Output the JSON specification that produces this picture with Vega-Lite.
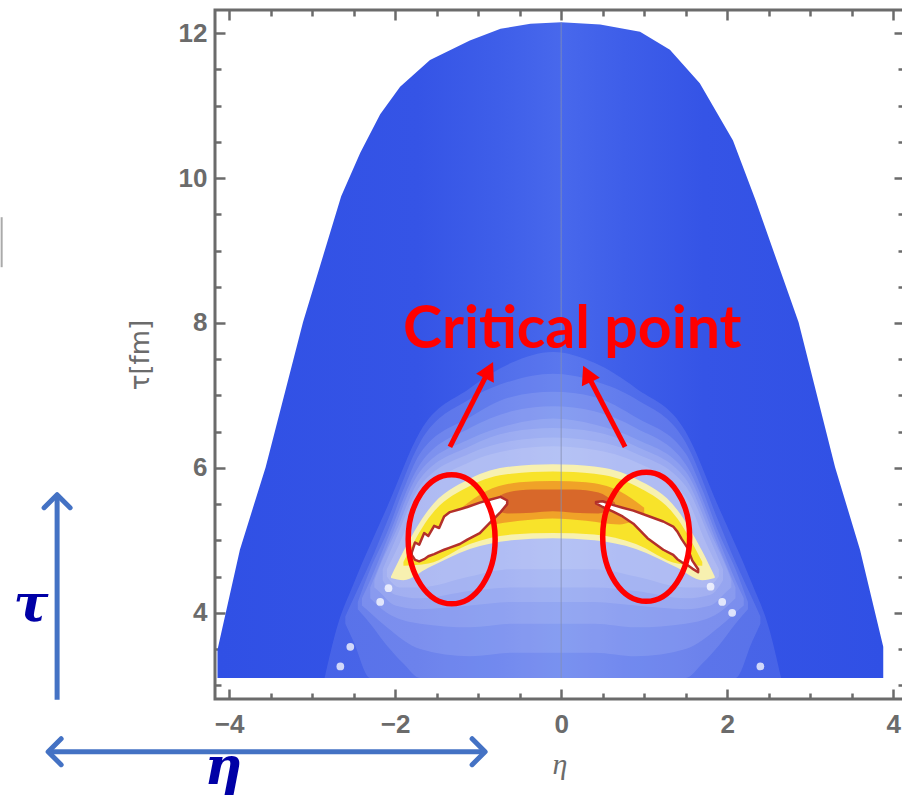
{
 "$schema": "https://vega.github.io/schema/vega-lite/v6.json",
 "width": 689, "height": 689,
 "autosize": {"type": "none"},
 "padding": {"left": 215, "top": 10, "right": 0, "bottom": 102},
 "background": "white",
 "config": {"view": {"stroke": "#6b6b6b", "strokeWidth": 3}, "axis": {"grid": false, "domain": false}},
 "datasets": {
  "shape": [
   {"eta": -4.14, "tau": 3.49, "bot": 3.1}, {"eta": -3.87, "tau": 4.87, "bot": 3.1}, {"eta": -3.56, "tau": 6.01, "bot": 3.1},
   {"eta": -3.11, "tau": 8.01, "bot": 3.1}, {"eta": -2.65, "tau": 9.75, "bot": 3.1}, {"eta": -2.42, "tau": 10.35, "bot": 3.1},
   {"eta": -2.18, "tau": 10.88, "bot": 3.1}, {"eta": -1.94, "tau": 11.26, "bot": 3.1}, {"eta": -1.58, "tau": 11.63, "bot": 3.1},
   {"eta": -1.10, "tau": 11.90, "bot": 3.1}, {"eta": -0.73, "tau": 12.06, "bot": 3.1}, {"eta": -0.37, "tau": 12.13, "bot": 3.1},
   {"eta": 0, "tau": 12.15, "bot": 3.1}, {"eta": 0.47, "tau": 12.12, "bot": 3.1}, {"eta": 0.95, "tau": 12.02, "bot": 3.1},
   {"eta": 1.31, "tau": 11.77, "bot": 3.1}, {"eta": 1.67, "tau": 11.31, "bot": 3.1}, {"eta": 2.07, "tau": 10.52, "bot": 3.1},
   {"eta": 2.34, "tau": 9.70, "bot": 3.1}, {"eta": 2.86, "tau": 8.01, "bot": 3.1}, {"eta": 3.30, "tau": 6.01, "bot": 3.1},
   {"eta": 3.60, "tau": 4.87, "bot": 3.1}, {"eta": 3.88, "tau": 3.53, "bot": 3.1}
  ],
  "glow": [
   {"level": 1, "eta": -2.85, "tau": 3.1, "bot": 3.1}, {"level": 1, "eta": -2.7, "tau": 3.8, "bot": 3.1}, {"level": 1, "eta": -2.5, "tau": 4.4, "bot": 3.1},
   {"level": 1, "eta": -2.1, "tau": 5.45, "bot": 3.1}, {"level": 1, "eta": -1.7, "tau": 6.5, "bot": 3.1}, {"level": 1, "eta": -1.1, "tau": 7.1, "bot": 3.1},
   {"level": 1, "eta": -0.6, "tau": 7.45, "bot": 3.1}, {"level": 1, "eta": -0.1, "tau": 7.6, "bot": 3.1}, {"level": 1, "eta": 0.4, "tau": 7.45, "bot": 3.1},
   {"level": 1, "eta": 0.9, "tau": 7.1, "bot": 3.1}, {"level": 1, "eta": 1.5, "tau": 6.5, "bot": 3.1}, {"level": 1, "eta": 1.9, "tau": 5.45, "bot": 3.1},
   {"level": 1, "eta": 2.3, "tau": 4.4, "bot": 3.1}, {"level": 1, "eta": 2.5, "tau": 3.8, "bot": 3.1}, {"level": 1, "eta": 2.65, "tau": 3.1, "bot": 3.1},
   {"level": 2, "eta": -2.6, "tau": 3.95, "bot": 3.85}, {"level": 2, "eta": -2.5, "tau": 4.2, "bot": 3.6}, {"level": 2, "eta": -2.3, "tau": 4.7, "bot": 3.1},
   {"level": 2, "eta": -2.1, "tau": 5.25, "bot": 3.1}, {"level": 2, "eta": -1.7, "tau": 6.35, "bot": 3.1}, {"level": 2, "eta": -1.1, "tau": 6.95, "bot": 3.1},
   {"level": 2, "eta": -0.6, "tau": 7.2, "bot": 3.1}, {"level": 2, "eta": -0.1, "tau": 7.3, "bot": 3.1}, {"level": 2, "eta": 0.4, "tau": 7.2, "bot": 3.1},
   {"level": 2, "eta": 0.9, "tau": 6.95, "bot": 3.1}, {"level": 2, "eta": 1.5, "tau": 6.35, "bot": 3.1}, {"level": 2, "eta": 1.9, "tau": 5.25, "bot": 3.1},
   {"level": 2, "eta": 2.1, "tau": 4.7, "bot": 3.1}, {"level": 2, "eta": 2.3, "tau": 4.2, "bot": 3.6}, {"level": 2, "eta": 2.4, "tau": 3.95, "bot": 3.85},
   {"level": 3, "eta": -2.45, "tau": 4.15, "bot": 4.05}, {"level": 3, "eta": -2.3, "tau": 4.6, "bot": 3.85}, {"level": 3, "eta": -2.1, "tau": 5.1, "bot": 3.55},
   {"level": 3, "eta": -1.9, "tau": 5.7, "bot": 3.3}, {"level": 3, "eta": -1.7, "tau": 6.2, "bot": 3.1}, {"level": 3, "eta": -1.1, "tau": 6.7, "bot": 3.1},
   {"level": 3, "eta": -0.6, "tau": 6.98, "bot": 3.1}, {"level": 3, "eta": -0.1, "tau": 7.05, "bot": 3.1}, {"level": 3, "eta": 0.4, "tau": 6.98, "bot": 3.1},
   {"level": 3, "eta": 0.9, "tau": 6.7, "bot": 3.1}, {"level": 3, "eta": 1.5, "tau": 6.2, "bot": 3.1}, {"level": 3, "eta": 1.7, "tau": 5.7, "bot": 3.3},
   {"level": 3, "eta": 1.9, "tau": 5.1, "bot": 3.55}, {"level": 3, "eta": 2.1, "tau": 4.6, "bot": 3.85}, {"level": 3, "eta": 2.25, "tau": 4.15, "bot": 4.05},
   {"level": 4, "eta": -2.4, "tau": 4.2, "bot": 4.1}, {"level": 4, "eta": -2.3, "tau": 4.45, "bot": 4.0}, {"level": 4, "eta": -2.1, "tau": 5.0, "bot": 3.8},
   {"level": 4, "eta": -1.7, "tau": 6.05, "bot": 3.5}, {"level": 4, "eta": -1.1, "tau": 6.55, "bot": 3.4}, {"level": 4, "eta": -0.6, "tau": 6.78, "bot": 3.45},
   {"level": 4, "eta": -0.1, "tau": 6.85, "bot": 3.45}, {"level": 4, "eta": 0.4, "tau": 6.78, "bot": 3.45}, {"level": 4, "eta": 0.9, "tau": 6.55, "bot": 3.4},
   {"level": 4, "eta": 1.5, "tau": 6.05, "bot": 3.5}, {"level": 4, "eta": 1.9, "tau": 5.0, "bot": 3.8}, {"level": 4, "eta": 2.1, "tau": 4.45, "bot": 4.0},
   {"level": 4, "eta": 2.2, "tau": 4.2, "bot": 4.1},
   {"level": 5, "eta": -2.3, "tau": 4.35, "bot": 4.2}, {"level": 5, "eta": -2.1, "tau": 4.9, "bot": 4.0}, {"level": 5, "eta": -1.7, "tau": 5.95, "bot": 3.85},
   {"level": 5, "eta": -1.1, "tau": 6.4, "bot": 3.8}, {"level": 5, "eta": -0.6, "tau": 6.6, "bot": 3.85}, {"level": 5, "eta": -0.1, "tau": 6.68, "bot": 3.85},
   {"level": 5, "eta": 0.4, "tau": 6.6, "bot": 3.85}, {"level": 5, "eta": 0.9, "tau": 6.4, "bot": 3.8}, {"level": 5, "eta": 1.5, "tau": 5.95, "bot": 3.85},
   {"level": 5, "eta": 1.9, "tau": 4.9, "bot": 4.0}, {"level": 5, "eta": 2.1, "tau": 4.35, "bot": 4.2},
   {"level": 6, "eta": -2.25, "tau": 4.45, "bot": 4.35}, {"level": 6, "eta": -2.2, "tau": 4.6, "bot": 4.3}, {"level": 6, "eta": -2.0, "tau": 5.1, "bot": 4.1},
   {"level": 6, "eta": -1.7, "tau": 5.85, "bot": 4.05}, {"level": 6, "eta": -1.1, "tau": 6.3, "bot": 4.1}, {"level": 6, "eta": -0.6, "tau": 6.5, "bot": 4.15},
   {"level": 6, "eta": -0.1, "tau": 6.55, "bot": 4.15}, {"level": 6, "eta": 0.4, "tau": 6.5, "bot": 4.15}, {"level": 6, "eta": 0.9, "tau": 6.3, "bot": 4.1},
   {"level": 6, "eta": 1.5, "tau": 5.85, "bot": 4.05}, {"level": 6, "eta": 1.8, "tau": 5.1, "bot": 4.1}, {"level": 6, "eta": 2.0, "tau": 4.6, "bot": 4.3},
   {"level": 6, "eta": 2.05, "tau": 4.45, "bot": 4.35},
   {"level": 7, "eta": -2.15, "tau": 4.6, "bot": 4.45}, {"level": 7, "eta": -2.0, "tau": 5.0, "bot": 4.25}, {"level": 7, "eta": -1.7, "tau": 5.75, "bot": 4.2},
   {"level": 7, "eta": -1.1, "tau": 6.2, "bot": 4.3}, {"level": 7, "eta": -0.6, "tau": 6.37, "bot": 4.35}, {"level": 7, "eta": -0.1, "tau": 6.42, "bot": 4.35},
   {"level": 7, "eta": 0.4, "tau": 6.37, "bot": 4.35}, {"level": 7, "eta": 0.9, "tau": 6.2, "bot": 4.3}, {"level": 7, "eta": 1.5, "tau": 5.75, "bot": 4.2},
   {"level": 7, "eta": 1.8, "tau": 5.0, "bot": 4.25}, {"level": 7, "eta": 1.95, "tau": 4.6, "bot": 4.45},
   {"level": 8, "eta": -2.1, "tau": 4.6, "bot": 4.5}, {"level": 8, "eta": -1.95, "tau": 4.95, "bot": 4.35}, {"level": 8, "eta": -1.7, "tau": 5.6, "bot": 4.35},
   {"level": 8, "eta": -1.1, "tau": 6.08, "bot": 4.5}, {"level": 8, "eta": -0.6, "tau": 6.25, "bot": 4.6}, {"level": 8, "eta": -0.1, "tau": 6.3, "bot": 4.6},
   {"level": 8, "eta": 0.4, "tau": 6.25, "bot": 4.6}, {"level": 8, "eta": 0.9, "tau": 6.08, "bot": 4.5}, {"level": 8, "eta": 1.5, "tau": 5.6, "bot": 4.35},
   {"level": 8, "eta": 1.75, "tau": 4.95, "bot": 4.35}, {"level": 8, "eta": 1.9, "tau": 4.6, "bot": 4.5}
  ],
  "band": [
   {"part": "pale", "eta": -2.05, "tau": 4.5, "bot": 4.48}, {"part": "pale", "eta": -1.9, "tau": 4.85, "bot": 4.45}, {"part": "pale", "eta": -1.6, "tau": 5.42, "bot": 4.62},
   {"part": "pale", "eta": -1.1, "tau": 5.85, "bot": 4.88}, {"part": "pale", "eta": -0.6, "tau": 6.02, "bot": 5.0}, {"part": "pale", "eta": -0.1, "tau": 6.05, "bot": 5.03},
   {"part": "pale", "eta": 0.4, "tau": 6.02, "bot": 5.0}, {"part": "pale", "eta": 0.9, "tau": 5.85, "bot": 4.88}, {"part": "pale", "eta": 1.4, "tau": 5.42, "bot": 4.62},
   {"part": "pale", "eta": 1.7, "tau": 4.85, "bot": 4.45}, {"part": "pale", "eta": 1.85, "tau": 4.5, "bot": 4.48},
   {"part": "yellow", "eta": -1.9, "tau": 4.7, "bot": 4.65}, {"part": "yellow", "eta": -1.6, "tau": 5.3, "bot": 4.68}, {"part": "yellow", "eta": -1.1, "tau": 5.75, "bot": 4.95},
   {"part": "yellow", "eta": -0.6, "tau": 5.92, "bot": 5.08}, {"part": "yellow", "eta": -0.1, "tau": 5.95, "bot": 5.1}, {"part": "yellow", "eta": 0.4, "tau": 5.92, "bot": 5.08},
   {"part": "yellow", "eta": 0.9, "tau": 5.75, "bot": 4.95}, {"part": "yellow", "eta": 1.4, "tau": 5.3, "bot": 4.68}, {"part": "yellow", "eta": 1.7, "tau": 4.7, "bot": 4.65},
   {"part": "orange", "eta": -1.2, "tau": 5.45, "bot": 5.35}, {"part": "orange", "eta": -0.9, "tau": 5.68, "bot": 5.22}, {"part": "orange", "eta": -0.5, "tau": 5.8, "bot": 5.27},
   {"part": "orange", "eta": -0.1, "tau": 5.82, "bot": 5.3}, {"part": "orange", "eta": 0.3, "tau": 5.8, "bot": 5.27}, {"part": "orange", "eta": 0.7, "tau": 5.68, "bot": 5.22},
   {"part": "orange", "eta": 1.0, "tau": 5.45, "bot": 5.35},
   {"part": "core", "eta": -0.85, "tau": 5.52, "bot": 5.48}, {"part": "core", "eta": -0.65, "tau": 5.66, "bot": 5.37}, {"part": "core", "eta": -0.35, "tau": 5.7, "bot": 5.38},
   {"part": "core", "eta": -0.1, "tau": 5.7, "bot": 5.4}, {"part": "core", "eta": 0.15, "tau": 5.7, "bot": 5.38}, {"part": "core", "eta": 0.45, "tau": 5.66, "bot": 5.37},
   {"part": "core", "eta": 0.65, "tau": 5.52, "bot": 5.48}
  ],
  "blob": [
   {"blob": "L", "eta": -1.80, "tau": 4.83, "bot": 4.80}, {"blob": "L", "eta": -1.76, "tau": 4.97, "bot": 4.73}, {"blob": "L", "eta": -1.71, "tau": 4.94, "bot": 4.71},
   {"blob": "L", "eta": -1.65, "tau": 5.10, "bot": 4.74}, {"blob": "L", "eta": -1.60, "tau": 5.06, "bot": 4.78}, {"blob": "L", "eta": -1.53, "tau": 5.20, "bot": 4.81},
   {"blob": "L", "eta": -1.47, "tau": 5.17, "bot": 4.84}, {"blob": "L", "eta": -1.41, "tau": 5.33, "bot": 4.87}, {"blob": "L", "eta": -1.34, "tau": 5.39, "bot": 4.90},
   {"blob": "L", "eta": -1.22, "tau": 5.43, "bot": 4.95}, {"blob": "L", "eta": -1.13, "tau": 5.46, "bot": 5.01}, {"blob": "L", "eta": -0.98, "tau": 5.52, "bot": 5.10},
   {"blob": "L", "eta": -0.86, "tau": 5.56, "bot": 5.24}, {"blob": "L", "eta": -0.73, "tau": 5.60, "bot": 5.39}, {"blob": "L", "eta": -0.65, "tau": 5.55, "bot": 5.50},
   {"blob": "R", "eta": 0.42, "tau": 5.53, "bot": 5.51}, {"blob": "R", "eta": 0.50, "tau": 5.54, "bot": 5.46}, {"blob": "R", "eta": 0.62, "tau": 5.49, "bot": 5.40},
   {"blob": "R", "eta": 0.74, "tau": 5.45, "bot": 5.33}, {"blob": "R", "eta": 0.87, "tau": 5.41, "bot": 5.23}, {"blob": "R", "eta": 1.04, "tau": 5.34, "bot": 5.03},
   {"blob": "R", "eta": 1.23, "tau": 5.26, "bot": 4.87}, {"blob": "R", "eta": 1.35, "tau": 5.19, "bot": 4.80}, {"blob": "R", "eta": 1.40, "tau": 5.12, "bot": 4.74},
   {"blob": "R", "eta": 1.45, "tau": 5.02, "bot": 4.70}, {"blob": "R", "eta": 1.52, "tau": 4.90, "bot": 4.66}, {"blob": "R", "eta": 1.58, "tau": 4.72, "bot": 4.61},
   {"blob": "R", "eta": 1.65, "tau": 4.60, "bot": 4.56}
  ],
  "dots": [
   {"eta": -2.08, "tau": 4.34}, {"eta": -2.18, "tau": 4.15}, {"eta": -2.54, "tau": 3.53}, {"eta": -2.66, "tau": 3.26},
   {"eta": 1.80, "tau": 4.36}, {"eta": 1.94, "tau": 4.15}, {"eta": 2.06, "tau": 4.0}, {"eta": 2.40, "tau": 3.26}
  ],
  "center": [{"eta": 0, "tau": 3.1, "tau2": 12.15}],
  "ellipses": [{"eta": -1.319, "tau": 5.014}, {"eta": 1.024, "tau": 5.048}],
  "redlines": [{"eta": -1.34, "tau": 6.29, "eta2": -0.90, "tau2": 7.28}, {"eta": 0.77, "tau": 6.29, "eta2": 0.348, "tau2": 7.22}],
  "headL": [{"eta": -0.82, "tau": 7.46}],
  "headR": [{"eta": 0.265, "tau": 7.41}],
  "crit": [{"eta": 0.133, "tau": 7.655, "label": "Critical point"}],
  "bluelines": [{"eta": -6.072, "eta2": -6.072, "tau": 2.8, "tau2": 5.6}, {"eta": -6.15, "eta2": -0.945, "tau": 2.083, "tau2": 2.083}],
  "chevUp": [{"eta": -6.072, "tau": 5.63}],
  "chevLeft": [{"eta": -6.18, "tau": 2.083}],
  "chevRight": [{"eta": -0.916, "tau": 2.083}],
  "greek": [{"eta": -6.386, "tau": 3.89, "label": "τ"}, {"eta": -4.07, "tau": 1.63, "label": "η"}],
  "bar": [{"eta": -6.74, "tau": 8.77, "tau2": 9.46}]
 },
 "encoding": {
  "x": {"field": "eta", "type": "quantitative", "scale": {"domain": [-4.17, 4.13], "nice": false, "zero": false}, "axis": null},
  "y": {"field": "tau", "type": "quantitative", "scale": {"domain": [2.81, 12.32], "nice": false, "zero": false}, "axis": null}
 },
 "resolve": {"axis": {"x": "independent", "y": "independent"}},
 "layer": [
  {
   "data": {"name": "shape"},
   "mark": {"type": "area", "interpolate": "linear", "color": {"gradient": "linear", "x1": 0, "x2": 1, "y1": 0, "y2": 0, "stops": [
     {"offset": 0, "color": "#3050e5"}, {"offset": 0.3, "color": "#3554e6"}, {"offset": 0.42, "color": "#3e5ee9"}, {"offset": 0.516, "color": "#4868ec"},
     {"offset": 0.61, "color": "#3e5ee9"}, {"offset": 0.73, "color": "#3554e6"}, {"offset": 1, "color": "#3050e5"}]}},
   "encoding": {
    "x": {"field": "eta", "type": "quantitative", "scale": {"domain": [-4.17, 4.13], "nice": false, "zero": false},
     "axis": {"orient": "bottom", "values": [-4, -3.5, -3, -2.5, -2, -1.5, -1, -0.5, 0, 0.5, 1, 1.5, 2, 2.5, 3, 3.5, 4],
      "tickSize": {"condition": {"test": "datum.value % 2 === 0", "value": -10}, "value": -6},
      "tickColor": "#6b6b6b", "tickWidth": 2.5, "labelExpr": "datum.value % 2 === 0 ? format(datum.value, 'd') : ''",
      "labelFont": "Liberation Sans", "labelFontWeight": "bold", "labelFontSize": 26, "labelColor": "#6b6b6b", "labelPadding": 22,
      "labelFlush": false, "labelOverlap": false,
      "title": "η", "titleFont": "Liberation Serif", "titleFontStyle": "italic", "titleFontWeight": "normal", "titleFontSize": 30, "titleColor": "#6b6b6b", "titlePadding": 8}},
    "y": {"field": "tau", "type": "quantitative", "scale": {"domain": [2.81, 12.32], "nice": false, "zero": false},
     "axis": {"orient": "left", "values": [3, 3.5, 4, 4.5, 5, 5.5, 6, 6.5, 7, 7.5, 8, 8.5, 9, 9.5, 10, 10.5, 11, 11.5, 12],
      "tickSize": {"condition": {"test": "datum.value % 2 === 0", "value": -10}, "value": -6},
      "tickColor": "#6b6b6b", "tickWidth": 2.5, "labelExpr": "datum.value % 2 === 0 ? format(datum.value, 'd') : ''",
      "labelFont": "Liberation Sans", "labelFontWeight": "bold", "labelFontSize": 26, "labelColor": "#6b6b6b", "labelPadding": 18,
      "labelFlush": false, "labelOverlap": false,
      "title": "τ[fm]", "titleFont": "DejaVu Sans", "titleFontWeight": "normal", "titleFontSize": 26, "titleColor": "#6b6b6b", "titlePadding": 25}},
    "y2": {"field": "bot"}
   }
  },
  {
   "data": {"name": "glow"},
   "mark": {"type": "area", "interpolate": "monotone", "color": "white"},
   "encoding": {
    "y2": {"field": "bot"},
    "detail": {"field": "level", "type": "ordinal"},
    "opacity": {"field": "level", "type": "ordinal", "scale": {"domain": [1, 2, 3, 4, 5, 6, 7, 8], "range": [0.1, 0.12, 0.15, 0.2, 0.25, 0.4, 0.5, 0.6]}, "legend": null}
   }
  },
  {
   "data": {"name": "band"},
   "mark": {"type": "area", "interpolate": "monotone", "opacity": 0.9},
   "encoding": {
    "y2": {"field": "bot"},
    "color": {"field": "part", "type": "nominal", "scale": {"domain": ["pale", "yellow", "orange", "core"], "range": ["#fff6a8", "#f7e11c", "#ee9a28", "#d5622a"]}, "legend": null}
   }
  },
  {
   "data": {"name": "blob"},
   "mark": {"type": "area", "fill": "white", "stroke": "#b3302b", "strokeWidth": 2.5, "strokeJoin": "round"},
   "encoding": {"y2": {"field": "bot"}, "detail": {"field": "blob", "type": "nominal"}}
  },
  {
   "data": {"name": "dots"},
   "mark": {"type": "point", "shape": "circle", "filled": true, "color": "white", "size": 60, "opacity": 0.75}
  },
  {
   "data": {"name": "center"},
   "mark": {"type": "rule", "color": "#8590b0", "strokeWidth": 1, "opacity": 0.8},
   "encoding": {
    "x": {"field": "eta", "type": "quantitative", "scale": {"domain": [-4.17, 4.13], "nice": false, "zero": false},
     "axis": {"orient": "top", "values": [-4, -3.5, -3, -2.5, -2, -1.5, -1, -0.5, 0, 0.5, 1, 1.5, 2, 2.5, 3, 3.5, 4],
      "tickSize": {"condition": {"test": "datum.value % 2 === 0", "value": -10}, "value": -6},
      "tickColor": "#6b6b6b", "tickWidth": 2.5, "labels": false, "title": null}},
    "y": {"field": "tau", "type": "quantitative", "scale": {"domain": [2.81, 12.32], "nice": false, "zero": false},
     "axis": {"orient": "right", "values": [3, 3.5, 4, 4.5, 5, 5.5, 6, 6.5, 7, 7.5, 8, 8.5, 9, 9.5, 10, 10.5, 11, 11.5, 12],
      "tickSize": {"condition": {"test": "datum.value % 2 === 0", "value": -10}, "value": -6},
      "tickColor": "#6b6b6b", "tickWidth": 2.5, "labels": false, "title": null}},
    "y2": {"field": "tau2"}
   }
  },
  {
   "data": {"name": "ellipses"},
   "mark": {"type": "point", "shape": "M -0.674 0 A 0.674 1 0 1 0 0.674 0 A 0.674 1 0 1 0 -0.674 0 Z", "size": 16641, "filled": false, "stroke": "#ff0000", "strokeWidth": 5.5, "opacity": 1}
  },
  {
   "data": {"name": "redlines"},
   "mark": {"type": "rule", "color": "#ff0000", "strokeWidth": 5},
   "encoding": {"x2": {"field": "eta2"}, "y2": {"field": "tau2"}}
  },
  {
   "data": {"name": "headL"},
   "mark": {"type": "point", "shape": "M 0 0 L 0.55 1 L -0.55 1 Z", "size": 1296, "filled": true, "color": "#ff0000", "opacity": 1, "angle": 26.8}
  },
  {
   "data": {"name": "headR"},
   "mark": {"type": "point", "shape": "M 0 0 L 0.55 1 L -0.55 1 Z", "size": 1296, "filled": true, "color": "#ff0000", "opacity": 1, "angle": 334.8}
  },
  {
   "data": {"name": "crit"},
   "mark": {"type": "text", "font": "Lato", "fontWeight": "bold", "fontSize": 59, "color": "#ff0000", "align": "center", "baseline": "alphabetic"},
   "encoding": {"text": {"field": "label"}}
  },
  {
   "data": {"name": "bluelines"},
   "mark": {"type": "rule", "color": "#4472c4", "strokeWidth": 5},
   "encoding": {"x2": {"field": "eta2"}, "y2": {"field": "tau2"}}
  },
  {
   "data": {"name": "chevUp"},
   "mark": {"type": "point", "shape": "M -1 1 L 0 0 L 1 1", "size": 676, "filled": false, "stroke": "#4472c4", "strokeWidth": 5, "strokeJoin": "round", "strokeCap": "round", "opacity": 1, "angle": 0}
  },
  {
   "data": {"name": "chevLeft"},
   "mark": {"type": "point", "shape": "M -1 1 L 0 0 L 1 1", "size": 676, "filled": false, "stroke": "#4472c4", "strokeWidth": 5, "strokeJoin": "round", "strokeCap": "round", "opacity": 1, "angle": 270}
  },
  {
   "data": {"name": "chevRight"},
   "mark": {"type": "point", "shape": "M -1 1 L 0 0 L 1 1", "size": 676, "filled": false, "stroke": "#4472c4", "strokeWidth": 5, "strokeJoin": "round", "strokeCap": "round", "opacity": 1, "angle": 90}
  },
  {
   "data": {"name": "greek"},
   "mark": {"type": "text", "font": "DejaVu Serif", "fontWeight": "bold", "fontStyle": "italic", "fontSize": 52, "color": "#0000a6", "align": "center", "baseline": "alphabetic"},
   "encoding": {"text": {"field": "label"}}
  },
  {
   "data": {"name": "bar"},
   "mark": {"type": "rule", "color": "#aaaaaa", "strokeWidth": 2},
   "encoding": {"y2": {"field": "tau2"}}
  }
 ]
}
